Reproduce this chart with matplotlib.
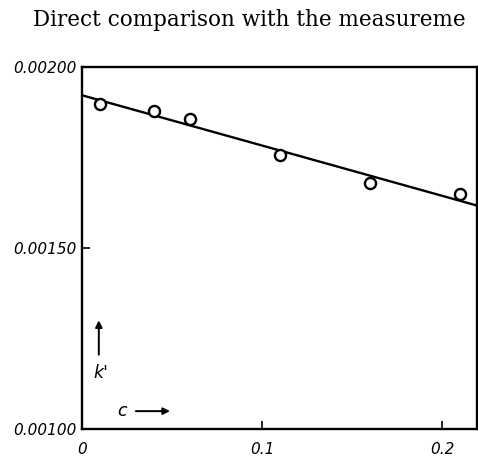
import numpy as np
import matplotlib
matplotlib.use('Agg')
import matplotlib.pyplot as plt

# measured points (c, k')
c_pts = [0.01, 0.04, 0.06, 0.11, 0.16, 0.21]
k_pts = [0.001898, 0.001878, 0.001855, 0.001757, 0.001678, 0.001648]

# straight line drawn through them
line_c = [0.0, 0.219]
line_k = [0.001921, 0.001617]

xticks = [0, 0.1, 0.2]
xlabels = ['0', '0.1', '0.2']
yticks = [0.00100, 0.00150, 0.00200]
ylabels = ['0.00100', '0.00150', '0.00200']

fig = plt.figure(figsize=(4.78, 4.61), dpi=100)
ax = fig.add_axes([0.1709, 0.0688, 0.8264, 0.7869])

ax.plot(line_c, line_k, color='black', lw=1.7, solid_capstyle='butt')
ax.plot(c_pts, k_pts, 'o', ms=8, mfc='white', mec='black', mew=1.7)

ax.set_xlim(0, 0.219)
ax.set_ylim(0.00100, 0.00200)

ax.set_xticks(xticks)
ax.set_xticklabels(xlabels, fontsize=11, style='italic')
ax.set_yticks(yticks)
ax.set_yticklabels(ylabels, fontsize=11, style='italic')
ax.tick_params(axis='x', direction='in', length=6, width=1.2, pad=9)
ax.tick_params(axis='y', direction='in', length=6, width=1.2, pad=4)
for s in ax.spines.values():
    s.set_linewidth(1.7)

# inner labels with arrows
ax.annotate('', xy=(0.0095, 0.001308), xytext=(0.0095, 0.001198),
            arrowprops=dict(arrowstyle='-|>', color='black', lw=1.4, mutation_scale=10))
ax.text(0.0105, 0.001155, "k'", fontsize=12.5, style='italic', ha='center', va='center')
ax.text(0.0225, 0.00105, 'c', fontsize=12.5, style='italic', ha='center', va='center')
ax.annotate('', xy=(0.0505, 0.00105), xytext=(0.0285, 0.00105),
            arrowprops=dict(arrowstyle='-|>', color='black', lw=1.4, mutation_scale=10))

# caption line above the figure (cut off at the page edge in the scan)
fig.text(33 / 478, 1 - 20 / 461, 'Direct comparison with the measureme',
         fontsize=15.5, family='DejaVu Serif', ha='left', va='center')

fig.savefig('out.png', dpi=100)
